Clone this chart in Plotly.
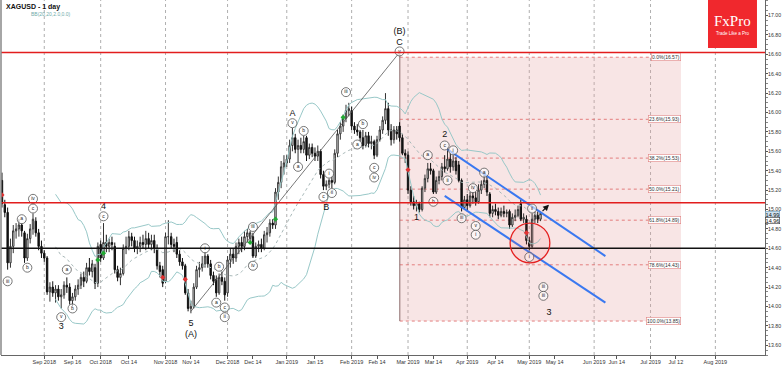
import pandas as pd
import plotly.graph_objects as go

# ---------------- data ----------------
title_text = "XAGUSD - 1 day"
bb_caption = "BB(20,20,2.0,0.0)"

dates = pd.bdate_range("2018-08-13", "2019-05-07")

opens = [15.30, 15.05, 14.97, 14.45, 14.62, 14.78, 14.80, 14.84, 14.76, 14.50,
         14.70, 14.80, 14.88, 14.76, 14.62, 14.55, 14.50, 14.15, 14.20, 14.14,
         14.18, 14.10, 14.12, 14.22, 14.20, 14.06, 14.10, 14.18, 14.22, 14.30,
         14.26, 14.40, 14.36, 14.40, 14.24, 14.64, 14.50, 14.66, 14.62, 14.66,
         14.62, 14.38, 14.30, 14.34, 14.60, 14.62, 14.72, 14.68, 14.60, 14.62,
         14.66, 14.64, 14.70, 14.64, 14.68, 14.60, 14.42, 14.38, 14.26, 14.72,
         14.72, 14.64, 14.66, 14.54, 14.46, 14.42, 14.14, 13.98, 14.00, 14.20,
         14.38, 14.40, 14.44, 14.52, 14.44, 14.32, 14.28, 14.14, 14.30, 14.26,
         14.14, 14.48, 14.54, 14.50, 14.62, 14.66, 14.62, 14.72, 14.70, 14.72,
         14.52, 14.62, 14.64, 14.60, 14.74, 14.76, 14.86, 14.84, 15.18, 15.28,
         15.44, 15.48, 15.52, 15.66, 15.74, 15.62, 15.66, 15.62, 15.74, 15.56,
         15.64, 15.58, 15.55, 15.60, 15.36, 15.24, 15.26, 15.30, 15.28, 15.58,
         15.78, 15.86, 15.94, 16.02, 16.02, 15.86, 15.82, 15.80, 15.74, 15.66,
         15.76, 15.68, 15.70, 15.56, 15.72, 15.82, 15.92, 16.04, 15.82, 15.72,
         15.82, 15.86, 15.74, 15.58, 15.56, 15.20, 15.08, 15.04, 15.06, 15.00,
         15.22, 15.32, 15.42, 15.40, 15.18, 15.30, 15.34, 15.44, 15.42, 15.52,
         15.44, 15.50, 15.46, 15.30, 15.02, 15.10, 15.04, 15.14, 15.12, 15.08,
         15.20, 15.26, 15.30, 15.16, 14.96, 15.00, 14.98, 14.94, 14.98, 14.96,
         14.98, 14.84, 14.92, 14.94, 15.06, 14.90, 14.90, 14.68, 14.62, 14.90,
         14.94, 14.90]
highs = [15.38, 15.10, 15.02, 14.70, 14.84, 14.86, 14.90, 14.86, 14.78, 14.75,
         14.85, 14.96, 14.92, 14.80, 14.68, 14.58, 14.52, 14.25, 14.26, 14.22,
         14.22, 14.18, 14.26, 14.30, 14.24, 14.14, 14.22, 14.28, 14.34, 14.36,
         14.45, 14.50, 14.48, 14.44, 14.66, 14.68, 14.86, 14.74, 14.70, 14.72,
         14.66, 14.42, 14.40, 14.64, 14.72, 14.78, 14.76, 14.72, 14.68, 14.72,
         14.74, 14.78, 14.76, 14.74, 14.74, 14.64, 14.46, 14.42, 14.76, 14.89,
         14.76, 14.70, 14.72, 14.58, 14.50, 14.44, 14.18, 14.06, 14.24, 14.42,
         14.46, 14.52, 14.56, 14.54, 14.48, 14.36, 14.32, 14.34, 14.36, 14.30,
         14.52, 14.60, 14.60, 14.66, 14.70, 14.72, 14.78, 14.80, 14.78, 14.76,
         14.66, 14.68, 14.70, 14.78, 14.82, 14.90, 14.90, 15.22, 15.34, 15.50,
         15.56, 15.56, 15.72, 15.84, 15.78, 15.72, 15.74, 15.76, 15.76, 15.68,
         15.68, 15.64, 15.66, 15.62, 15.40, 15.30, 15.32, 15.34, 15.62, 15.82,
         15.90, 15.98, 16.08, 16.10, 16.06, 15.90, 15.88, 15.82, 15.82, 15.80,
         15.80, 15.76, 15.72, 15.76, 15.86, 15.96, 16.20, 16.10, 15.88, 15.86,
         15.86, 15.90, 15.78, 15.62, 15.60, 15.24, 15.14, 15.10, 15.08, 15.24,
         15.36, 15.48, 15.48, 15.42, 15.34, 15.40, 15.48, 15.56, 15.64, 15.58,
         15.56, 15.54, 15.50, 15.32, 15.14, 15.16, 15.18, 15.18, 15.18, 15.26,
         15.30, 15.36, 15.34, 15.18, 15.04, 15.06, 15.02, 15.02, 15.04, 15.00,
         15.00, 14.96, 15.00, 15.04, 15.10, 14.96, 14.94, 14.72, 14.96, 14.98,
         14.98, 14.98]
lows = [15.02, 14.92, 14.38, 14.40, 14.55, 14.70, 14.72, 14.72, 14.45, 14.47,
        14.65, 14.74, 14.72, 14.58, 14.50, 14.46, 14.12, 14.05, 14.10, 14.04,
        14.06, 13.98, 14.08, 14.14, 14.02, 14.00, 14.06, 14.12, 14.18, 14.20,
        14.24, 14.32, 14.30, 14.18, 14.20, 14.46, 14.48, 14.56, 14.56, 14.58,
        14.34, 14.26, 14.22, 14.32, 14.54, 14.58, 14.62, 14.56, 14.54, 14.56,
        14.60, 14.58, 14.60, 14.58, 14.55, 14.38, 14.30, 14.20, 14.24, 14.64,
        14.60, 14.56, 14.50, 14.42, 14.38, 14.12, 13.95, 13.93, 13.98, 14.18,
        14.30, 14.36, 14.40, 14.40, 14.28, 14.22, 14.10, 14.12, 14.22, 14.06,
        14.10, 14.40, 14.44, 14.46, 14.54, 14.56, 14.58, 14.66, 14.66, 14.50,
        14.50, 14.56, 14.56, 14.58, 14.66, 14.72, 14.80, 14.80, 15.10, 15.22,
        15.36, 15.44, 15.48, 15.60, 15.58, 15.48, 15.58, 15.58, 15.50, 15.52,
        15.54, 15.50, 15.50, 15.32, 15.20, 15.20, 15.22, 15.22, 15.26, 15.54,
        15.72, 15.80, 15.90, 15.96, 15.82, 15.78, 15.76, 15.70, 15.62, 15.64,
        15.64, 15.62, 15.52, 15.54, 15.70, 15.78, 15.88, 15.76, 15.66, 15.68,
        15.72, 15.70, 15.56, 15.48, 15.16, 15.04, 15.00, 14.98, 14.97, 14.98,
        15.18, 15.28, 15.36, 15.16, 15.16, 15.26, 15.30, 15.38, 15.40, 15.38,
        15.40, 15.36, 15.28, 14.98, 15.00, 14.98, 15.02, 15.06, 15.04, 15.06,
        15.16, 15.22, 15.14, 14.92, 14.92, 14.94, 14.90, 14.92, 14.92, 14.92,
        14.80, 14.82, 14.88, 14.92, 14.88, 14.86, 14.64, 14.58, 14.60, 14.86,
        14.86, 14.88]
closes = [15.06, 14.97, 14.45, 14.62, 14.78, 14.80, 14.84, 14.78, 14.50, 14.70,
          14.80, 14.90, 14.76, 14.62, 14.55, 14.50, 14.15, 14.20, 14.14, 14.18,
          14.10, 14.12, 14.22, 14.20, 14.06, 14.10, 14.18, 14.22, 14.30, 14.26,
          14.40, 14.36, 14.44, 14.24, 14.62, 14.50, 14.66, 14.62, 14.66, 14.64,
          14.38, 14.30, 14.34, 14.60, 14.62, 14.72, 14.68, 14.60, 14.62, 14.66,
          14.64, 14.70, 14.64, 14.68, 14.60, 14.42, 14.36, 14.24, 14.72, 14.72,
          14.64, 14.62, 14.54, 14.46, 14.42, 14.14, 13.98, 14.00, 14.20, 14.38,
          14.40, 14.44, 14.52, 14.44, 14.32, 14.26, 14.14, 14.30, 14.26, 14.12,
          14.48, 14.54, 14.50, 14.62, 14.66, 14.62, 14.72, 14.76, 14.76, 14.52,
          14.62, 14.64, 14.60, 14.74, 14.76, 14.86, 14.84, 15.18, 15.28, 15.44,
          15.48, 15.52, 15.66, 15.74, 15.62, 15.66, 15.62, 15.70, 15.56, 15.64,
          15.58, 15.55, 15.60, 15.36, 15.24, 15.26, 15.30, 15.28, 15.58, 15.78,
          15.86, 15.94, 16.02, 16.04, 15.86, 15.82, 15.80, 15.74, 15.66, 15.76,
          15.68, 15.70, 15.56, 15.72, 15.82, 15.92, 16.04, 15.82, 15.72, 15.82,
          15.78, 15.74, 15.58, 15.56, 15.20, 15.08, 15.04, 15.06, 15.00, 15.22,
          15.32, 15.42, 15.40, 15.18, 15.30, 15.34, 15.44, 15.42, 15.52, 15.44,
          15.50, 15.40, 15.30, 15.02, 15.10, 15.04, 15.14, 15.12, 15.08, 15.20,
          15.26, 15.30, 15.18, 14.96, 15.00, 14.98, 14.94, 14.98, 14.96, 14.97,
          14.84, 14.92, 14.94, 15.00, 14.90, 14.92, 14.68, 14.62, 14.90, 14.94,
          14.90, 14.96]

# horizontal levels
red_levels = [16.62, 15.07]
black_levels = [14.60]

# fibonacci retracement
fib_pct = ["0.0%", "23.6%", "38.2%", "50.0%", "61.8%", "78.6%", "100.0%"]
fib_vals = [16.57, 15.93, 15.53, 15.21, 14.89, 14.43, 13.85]
fib_x0 = "2019-02-26 02:00"
fib_x1 = "2019-07-15 19:00"

# trend / channel lines
diag_dates = ["2018-11-14", "2019-02-26"]
diag_prices = [13.95, 16.62]
chan_up_dates = ["2019-03-21", "2019-06-07"]
chan_up_prices = [15.62, 14.52]
chan_lo_dates = ["2019-03-20", "2019-06-07"]
chan_lo_prices = [15.14, 14.04]

# signal markers
red_dates = ["2018-08-13", "2018-10-31", "2018-11-12", "2019-03-01", "2019-04-30"]
red_prices = [15.15, 14.30, 14.28, 15.41, 14.76]
green_dates = ["2018-09-28", "2018-10-02", "2018-12-13", "2018-12-26", "2019-01-29"]
green_prices = [14.48, 14.55, 14.66, 14.90, 15.95]

# circled wave labels
circ_text = ["iii", "a", "iv", "c", "b", "a", "b", "v", "c", "i", "b", "a", "c", "ii",
             "iii", "iv", "v", "a", "b", "c", "i", "ii", "iii", "a", "b", "c", "iv",
             "v", "a", "b", "c", "i", "ii", "iii", "iv", "v", "i", "a", "ii", "i",
             "iii", "iii"]
circ_dates = ["2018-08-15", "2018-08-22", "2018-08-28", "2018-08-28", "2018-08-24",
              "2018-09-13", "2018-09-17", "2018-09-11", "2018-10-02", "2018-11-21",
              "2018-11-28", "2018-11-27", "2018-11-30", "2018-11-30", "2018-12-14",
              "2018-12-14", "2019-01-03", "2019-01-07", "2019-01-09", "2019-01-18",
              "2019-01-22", "2019-01-23", "2019-01-30", "2019-02-05", "2019-02-07",
              "2019-02-13", "2019-02-13", "2019-02-26", "2019-03-12", "2019-03-14",
              "2019-03-20", "2019-03-25", "2019-03-21", "2019-03-28", "2019-04-03",
              "2019-04-04", "2019-04-04", "2019-04-09", "2019-05-02", "2019-05-01",
              "2019-05-08", "2019-05-08"]
circ_prices = [14.26, 14.90, 15.11, 15.01, 14.40, 14.38, 13.98, 13.89, 14.93, 14.60,
               14.41, 14.04, 13.99, 13.89, 14.82, 14.42, 15.89, 15.44, 15.81, 15.13,
               15.37, 15.17, 16.21, 15.67, 15.88, 15.43, 15.33, 16.63, 15.56, 15.08,
               15.66, 15.61, 15.30, 14.91, 15.22, 14.83, 14.74, 15.38, 15.01, 14.51,
               14.20, 14.11]

# plain wave labels
wave_text = ["4", "3", "5", "(A)", "A", "B", "(B)", "C", "1", "2", "3"]
wave_dates = ["2018-10-02", "2018-09-11", "2018-11-14", "2018-11-14", "2019-01-03",
              "2019-01-21", "2019-02-26", "2019-02-26", "2019-03-06", "2019-03-20",
              "2019-05-10"]
wave_prices = [15.03, 13.79, 13.82, 13.71, 15.99, 15.02, 16.83, 16.72, 14.91, 15.77,
               13.94]

# axis ticks
month_dates = ["2018-09-03", "2018-10-01", "2018-11-01", "2018-12-03", "2019-01-01",
               "2019-02-01", "2019-03-01", "2019-04-01", "2019-05-01", "2019-06-03",
               "2019-07-01", "2019-08-01"]
x_tick_dates = ["2018-09-03", "2018-09-17", "2018-10-01", "2018-10-15", "2018-11-01",
                "2018-11-14", "2018-12-03", "2018-12-14", "2019-01-01", "2019-01-15",
                "2019-02-01", "2019-02-14", "2019-03-01", "2019-03-14", "2019-04-01",
                "2019-04-15", "2019-05-01", "2019-05-14", "2019-06-03", "2019-06-13",
                "2019-07-01", "2019-07-12", "2019-08-01"]
x_tick_text = ["Sep 2018", "Sep 16", "Oct 2018", "Oct 14", "Nov 2018", "Nov 14",
               "Dec 2018", "Dec 14", "Jan 2019", "Jan 15", "Feb 2019", "Feb 14",
               "Mar 2019", "Mar 14", "Apr 2019", "Apr 14", "May 2019", "May 14",
               "Jun 2019", "Jun 14", "Jul 2019", "Jul 12", "Aug 2019"]
y_ticks = [13.60, 13.80, 14.00, 14.20, 14.40, 14.60, 14.80, 15.00, 15.20, 15.40,
           15.60, 15.80, 16.00, 16.20, 16.40, 16.60, 16.80, 17.00]
price_tags = ["14.99", "14.96"]
price_tag_pos = [14.95, 14.885]

# ---------------- figure ----------------
FONT = "Liberation Sans"
fig = go.Figure()

close_s = pd.Series(closes, index=dates)
bb_mid = close_s.rolling(20).mean()
bb_std = close_s.rolling(20).std(ddof=0)
bb_up = bb_mid + 2 * bb_std
bb_lo = bb_mid - 2 * bb_std

band_col = "#98c8c8"
fig.add_trace(go.Scatter(x=dates, y=bb_up, mode="lines",
                         line=dict(color=band_col, width=1), hoverinfo="skip"))
fig.add_trace(go.Scatter(x=dates, y=bb_lo, mode="lines",
                         line=dict(color=band_col, width=1), hoverinfo="skip"))
fig.add_trace(go.Scatter(x=dates, y=bb_mid, mode="lines",
                         line=dict(color="#a9b9b9", width=1, dash="dot"), hoverinfo="skip"))

fig.add_trace(go.Candlestick(
    x=dates, open=opens, high=highs, low=lows, close=closes,
    increasing=dict(fillcolor="white", line=dict(color="#333333", width=1)),
    decreasing=dict(fillcolor="#111111", line=dict(color="#111111", width=1)),
    whiskerwidth=0, hoverinfo="skip"))

# trend line and channel
fig.add_trace(go.Scatter(x=diag_dates, y=diag_prices, mode="lines",
                         line=dict(color="#555555", width=0.8), hoverinfo="skip"))
for dd, pp in [(chan_up_dates, chan_up_prices), (chan_lo_dates, chan_lo_prices)]:
    fig.add_trace(go.Scatter(x=dd, y=pp, mode="lines",
                             line=dict(color="#3a78f0", width=2), hoverinfo="skip"))

# signal markers
fig.add_trace(go.Scatter(x=red_dates, y=red_prices, mode="markers",
                         marker=dict(symbol="diamond", size=4, color="#e03030"),
                         hoverinfo="skip"))
fig.add_trace(go.Scatter(x=green_dates, y=green_prices, mode="markers",
                         marker=dict(symbol="diamond", size=4, color="#22aa33"),
                         hoverinfo="skip"))

# wave labels
fig.add_trace(go.Scatter(x=circ_dates, y=circ_prices, mode="markers+text",
                         text=circ_text, textposition="middle center",
                         textfont=dict(family=FONT, size=5, color="#222222"),
                         marker=dict(symbol="circle", size=9, color="rgba(255,255,255,0.6)",
                                     line=dict(color="#555555", width=0.8)),
                         hoverinfo="skip"))
fig.add_trace(go.Scatter(x=wave_dates, y=wave_prices, mode="text",
                         text=wave_text, textposition="middle center",
                         textfont=dict(family=FONT, size=9, color="#111111"),
                         hoverinfo="skip"))

shapes = []
# fib shaded region
shapes.append(dict(type="rect", xref="x", yref="y", x0=fib_x0, x1=fib_x1,
                   y0=fib_vals[-1], y1=fib_vals[0], fillcolor="rgba(230,160,160,0.28)",
                   line=dict(width=0), layer="below"))
for v in fib_vals:
    shapes.append(dict(type="line", xref="x", yref="y", x0=fib_x0, x1=fib_x1, y0=v, y1=v,
                       line=dict(color="rgba(220,90,90,0.75)", width=1, dash="dot"),
                       layer="below"))
shapes.append(dict(type="line", xref="x", yref="y", x0=fib_x0, x1=fib_x0,
                   y0=fib_vals[-1], y1=red_levels[0],
                   line=dict(color="#8a6a6a", width=1), layer="below"))
# month grid
for d in month_dates:
    shapes.append(dict(type="line", xref="x", yref="paper", x0=d, x1=d, y0=0, y1=1,
                       line=dict(color="#9a9a9a", width=0.8, dash="3px,3px"), layer="below"))
# horizontal levels
for v in red_levels:
    shapes.append(dict(type="line", xref="paper", yref="y", x0=0, x1=1, y0=v, y1=v,
                       line=dict(color="#e21d1d", width=1.5)))
for v in black_levels:
    shapes.append(dict(type="line", xref="paper", yref="y", x0=0, x1=1, y0=v, y1=v,
                       line=dict(color="#111111", width=1.5)))
# red highlight circle
shapes.append(dict(type="circle", xref="x", yref="y",
                   x0="2019-04-22 05:00", x1="2019-05-10 07:00", y0=14.45, y1=14.86,
                   fillcolor="rgba(255,90,90,0.10)", line=dict(color="#e52020", width=1.3)))
# left border
shapes.append(dict(type="line", xref="paper", yref="paper", x0=0, x1=0, y0=0, y1=1,
                   line=dict(color="#888888", width=1.5)))
# logo
shapes.append(dict(type="rect", xref="paper", yref="paper", x0=0.9254, x1=0.9895,
                   y0=0.8648, y1=1.0, fillcolor="#f0282d", line=dict(width=0)))

annotations = []
for p, v in zip(fib_pct, fib_vals):
    annotations.append(dict(x=fib_x1, y=v, xref="x", yref="y", xanchor="right",
                            text=f"{p}({v:.2f})", showarrow=False,
                            font=dict(family=FONT, size=5, color="#333333"),
                            bgcolor="white", bordercolor="#e08080", borderwidth=0.6,
                            borderpad=0.5))
annotations.append(dict(x=0.004, y=0.997, xref="paper", yref="paper", xanchor="left",
                        yanchor="top", text=f"<b>{title_text}</b>", showarrow=False,
                        font=dict(family=FONT, size=7, color="#111111")))
annotations.append(dict(x=0.036, y=0.975, xref="paper", yref="paper", xanchor="left",
                        yanchor="top", text=bb_caption, showarrow=False,
                        font=dict(family=FONT, size=5, color="#70aaaa")))
annotations.append(dict(x=0.9575, y=0.94, xref="paper", yref="paper",
                        xanchor="center", yanchor="middle",
                        text="FxPro", showarrow=False,
                        font=dict(family="Liberation Serif", size=15, color="white")))
annotations.append(dict(x=0.9575, y=0.905, xref="paper", yref="paper",
                        xanchor="center", yanchor="middle",
                        text="Trade Like a Pro", showarrow=False,
                        font=dict(family=FONT, size=4.5, color="white")))
annotations.append(dict(x="2019-05-10", y=15.05, xref="x", yref="y", text="",
                        showarrow=True, ax=-8, ay=8, arrowhead=2, arrowsize=1,
                        arrowwidth=1.2, arrowcolor="#111111"))
tag_styles = [("#cfe1ef", "#6a9ab8"), ("white", "#333333")]
for t, v, (bg, bc) in zip(price_tags, price_tag_pos, tag_styles):
    annotations.append(dict(x=1.0, y=v, xref="paper", yref="y", xanchor="left",
                            yanchor="middle", text=t, showarrow=False,
                            font=dict(family=FONT, size=5.5, color="#111111"),
                            bgcolor=bg, bordercolor=bc, borderwidth=0.6, borderpad=0))

fig.update_layout(
    width=782, height=366,
    margin=dict(l=1, r=17, t=0, b=11, autoexpand=False),
    paper_bgcolor="white", plot_bgcolor="white",
    showlegend=False, shapes=shapes, annotations=annotations,
    font=dict(family=FONT),
    xaxis=dict(type="date", range=["2018-08-10 15:36", "2019-08-26 14:24"],
               rangebreaks=[dict(bounds=["sat", "mon"])],
               rangeslider=dict(visible=False),
               tickvals=x_tick_dates, ticktext=x_tick_text, tickangle=0,
               ticks="outside", ticklen=3, tickcolor="#555555",
               ticklabelstandoff=-2,
               showgrid=False, zeroline=False, showline=True, linecolor="#666666",
               tickfont=dict(family=FONT, size=5.5, color="#333333"), automargin=False),
    yaxis=dict(side="right", range=[13.50, 17.16],
               tickvals=y_ticks, ticktext=[f"{v:.2f}" for v in y_ticks],
               ticks="outside", ticklen=2, tickcolor="#555555",
               ticklabelstandoff=-1,
               minor=dict(ticks="outside", ticklen=1.5, dtick=0.05, tickcolor="#888888"),
               showgrid=False, zeroline=False, showline=True, linecolor="#666666",
               tickfont=dict(family=FONT, size=5.2, color="#333333"), automargin=False),
)

fig.write_html("out.html", config={"displayModeBar": False},
               post_script="document.body.style.margin='0';"
                           "document.body.style.overflow='hidden';")
